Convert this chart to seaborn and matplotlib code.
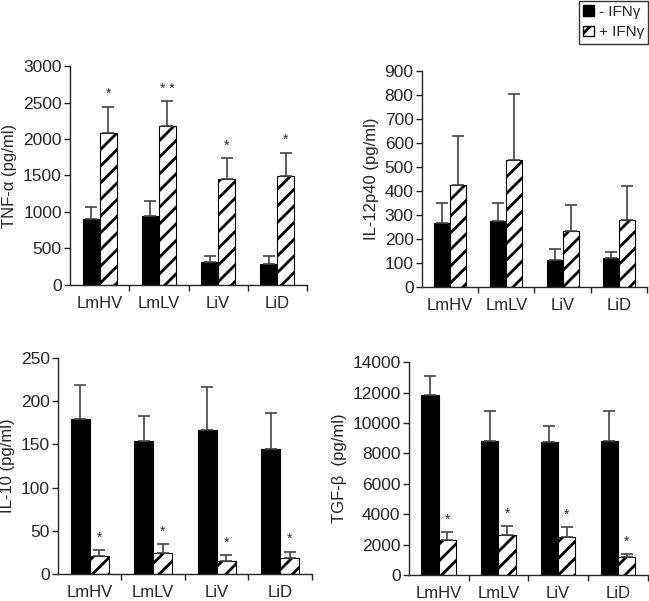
import pandas as pd
import matplotlib.pyplot as plt
import seaborn as sns
from matplotlib.patches import Patch

sns.set_style("ticks")
plt.rcParams['font.family'] = ['Liberation Sans', 'DejaVu Sans']
plt.rcParams['hatch.linewidth'] = 2.0
plt.rcParams['hatch.color'] = 'black'

groups = ["LmHV", "LmLV", "LiV", "LiD"]
conditions = ["- IFNγ", "+ IFNγ"]

# mean values and upper error bars
tnf_minus = [900, 945, 310, 288]
tnf_minus_err = [164, 206, 92, 109]
tnf_plus = [2078, 2174, 1447, 1493]
tnf_plus_err = [365, 347, 288, 320]
tnf_stars = ["*", "* *", "*", "*"]

il12_minus = [267, 274, 114, 119]
il12_minus_err = [83, 76, 43, 28]
il12_plus = [424, 528, 232, 279]
il12_plus_err = [204, 278, 111, 142]
il12_stars = ["", "", "", ""]

il10_minus = [180, 154, 166.5, 144.5]
il10_minus_err = [39, 29.5, 50.5, 41.5]
il10_plus = [20.5, 24, 15.5, 18]
il10_plus_err = [7.5, 11, 6.5, 8]
il10_stars = ["*", "*", "*", "*"]

tgf_minus = [11828, 8843, 8756, 8800]
tgf_minus_err = [1294, 1975, 1053, 2018]
tgf_plus = [2304, 2655, 2524, 1207]
tgf_plus_err = [505, 549, 636, 197]
tgf_stars = ["*", "*", "*", "*"]

panels = [
    ("TNF-α (pg/ml)", tnf_minus, tnf_minus_err, tnf_plus, tnf_plus_err, tnf_stars,
     3000, 500, [0.108, 0.526, 0.365, 0.364], 0.57),
    ("IL-12p40 (pg/ml)", il12_minus, il12_minus_err, il12_plus, il12_plus_err, il12_stars,
     900, 100, [0.650, 0.5225, 0.347, 0.359], 0.57),
    ("IL-10 (pg/ml)", il10_minus, il10_minus_err, il10_plus, il10_plus_err, il10_stars,
     250, 50, [0.0894, 0.045, 0.391, 0.359], 0.6),
    ("TGF-β  (pg/ml)", tgf_minus, tgf_minus_err, tgf_plus, tgf_plus_err, tgf_stars,
     14000, 2000, [0.630, 0.0433, 0.368, 0.354], 0.58),
]

fig = plt.figure(figsize=(6.49, 6.01), dpi=100)

for ylabel, m, me, p, pe, stars, ymax, step, rect, width in panels:
    ax = fig.add_axes(rect)
    df = pd.DataFrame({
        "group": groups * 2,
        "cond": [conditions[0]] * 4 + [conditions[1]] * 4,
        "value": m + p,
    })
    sns.barplot(data=df, x="group", y="value", hue="cond", order=groups,
                hue_order=conditions, palette=["black", "white"],
                width=width, gap=0, errorbar=None, legend=False, ax=ax,
                edgecolor="black", linewidth=0.8)
    # hatching for + IFNγ bars
    for bar in ax.containers[1]:
        bar.set_hatch("//")
    # upward-only error bars
    for cont, vals, errs in [(ax.containers[0], m, me), (ax.containers[1], p, pe)]:
        xs = [b.get_x() + b.get_width() / 2 for b in cont]
        ax.errorbar(xs, vals, yerr=[[0] * 4, errs], fmt="none", ecolor="#444444",
                    elinewidth=1.2, capsize=4, capthick=1.2, zorder=1)
        if cont is ax.containers[1]:
            for x, v, e, s in zip(xs, vals, errs, stars):
                if s:
                    ax.text(x, v + e + ymax * 0.025, s, ha="center", va="bottom",
                            fontsize=10)
    ax.set_xlim(-0.5, 3.5)
    ax.set_ylim(0, ymax)
    ax.set_yticks(range(0, ymax + 1, step))
    ax.set_xticks([0.5, 1.5, 2.5, 3.5], minor=True)
    ax.tick_params(axis="x", which="major", length=0, labelsize=12, pad=8)
    ax.tick_params(axis="x", which="minor", length=4, width=1, direction="out")
    ax.tick_params(axis="y", length=4, width=1, labelsize=12.5, pad=2)
    ax.set_xlabel("")
    ax.set_ylabel(ylabel, fontsize=12, labelpad=4)
    sns.despine(ax=ax)
    for sp in ax.spines.values():
        sp.set_linewidth(1)

handles = [Patch(facecolor="black", edgecolor="black"),
           Patch(facecolor="white", edgecolor="black", hatch="//")]
fig.legend(handles, conditions, loc="upper right", bbox_to_anchor=(0.999, 0.999),
           fontsize=11, frameon=True, fancybox=False, edgecolor="black",
           handlelength=0.7, handleheight=0.7, handletextpad=0.3,
           borderpad=0.3, labelspacing=0.4, borderaxespad=0)

fig.savefig("out.png", dpi=100)
